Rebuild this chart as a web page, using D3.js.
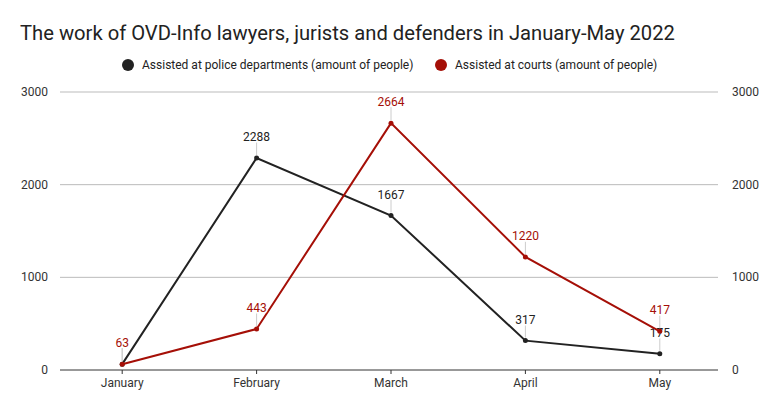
<!DOCTYPE html>
<html><head><meta charset="utf-8">
<script src="https://cdn.jsdelivr.net/npm/d3@7"></script>
<style>body{margin:0;background:#fff;font-family:Roboto,sans-serif}</style>
</head><body><div id="vis"></div>
<script>
var months = ["January","February","March","April","May"],
  police = [63, 2288, 1667, 317, 175],
  courts = [63, 443, 2664, 1220, 417],
  ticks = [0, 1000, 2000, 3000];

var W = 782, H = 411,
  svg = d3.select("#vis").append("svg").attr("width", W).attr("height", H);

var x = d3.scalePoint().domain(months).range([55, 727]).padding(0.5),
  y = d3.scaleLinear().domain([0, 3000]).range([370, 92]);

svg.append("text").attr("x", 20).attr("y", 40).attr("font-size", 20.2).attr("fill", "#222")
  .text("The work of OVD-Info lawyers, jurists and defenders in January-May 2022");

// legend
var leg = [["Assisted at police departments (amount of people)", "#222"],
  ["Assisted at courts (amount of people)", "#a50f07"]];
svg.append("circle").attr("cx", 128).attr("cy", 65).attr("r", 6).attr("fill", leg[0][1]);
svg.append("text").attr("x", 142).attr("y", 69).attr("font-size", 12).attr("fill", "#222").text(leg[0][0]);
svg.append("circle").attr("cx", 441).attr("cy", 65).attr("r", 6).attr("fill", leg[1][1]);
svg.append("text").attr("x", 455).attr("y", 69).attr("font-size", 12).attr("fill", "#222").text(leg[1][0]);

// grid
svg.selectAll("line.grid").data(ticks).enter().append("line")
  .attr("x1", 60).attr("x2", 718).attr("y1", y).attr("y2", y)
  .attr("stroke", function(d){ return d == 0 ? "#333" : "#bbb"; });
svg.selectAll("text.yl").data(ticks).enter().append("text")
  .attr("x", 48).attr("y", function(d){ return y(d) + 4; }).attr("text-anchor", "end")
  .attr("font-size", 12).attr("fill", "#333").text(String);
svg.selectAll("text.yr").data(ticks).enter().append("text")
  .attr("x", 732).attr("y", function(d){ return y(d) + 4; })
  .attr("font-size", 12).attr("fill", "#333").text(String);
svg.selectAll("text.xl").data(months).enter().append("text")
  .attr("x", x).attr("y", 387).attr("text-anchor", "middle")
  .attr("font-size", 12).attr("fill", "#333").text(String);
svg.selectAll("line.xt").data(months).enter().append("line")
  .attr("x1", x).attr("x2", x).attr("y1", 370).attr("y2", 374).attr("stroke", "#333");

function series(vals, col) {
  var line = d3.line().x(function(d, i){ return x(months[i]); }).y(function(d){ return y(d); });
  svg.append("path").datum(vals).attr("d", line).attr("fill", "none")
    .attr("stroke", col).attr("stroke-width", 2);
  var g = svg.append("g");
  vals.forEach(function(v, i){
    var px = x(months[i]), py = y(v);
    g.append("line").attr("x1", px).attr("x2", px).attr("y1", py - 3).attr("y2", py - 16)
      .attr("stroke", "#ccc");
    g.append("circle").attr("cx", px).attr("cy", py).attr("r", 2.5).attr("fill", col);
    g.append("text").attr("x", px).attr("y", py - 17).attr("text-anchor", "middle")
      .attr("font-size", 12).attr("fill", col).attr("stroke", "#fff").attr("stroke-width", 3)
      .attr("paint-order", "stroke").text(v);
  });
}
series(police, "#222");
series(courts, "#a50f07");
</script></body></html>
